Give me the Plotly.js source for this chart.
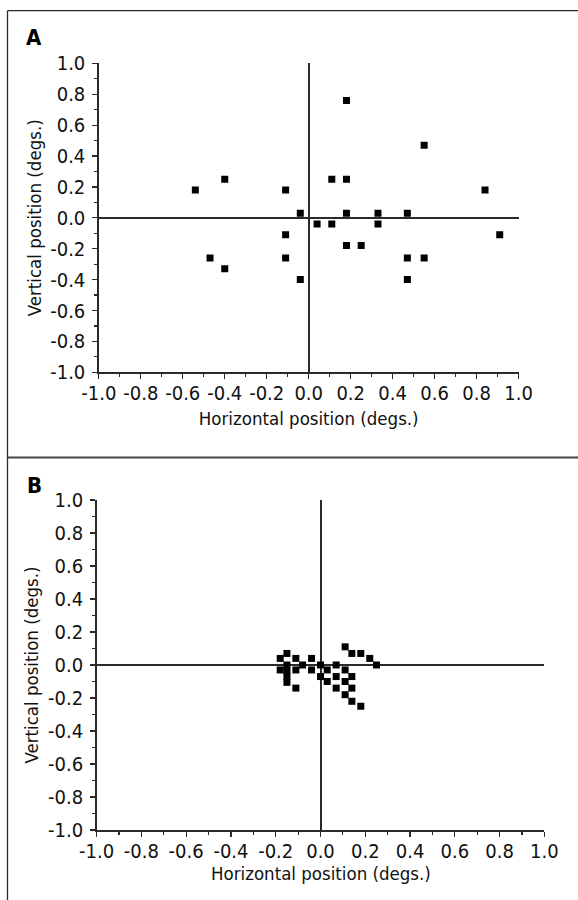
<!DOCTYPE html>
<html><head><meta charset="utf-8">
<script src="https://cdn.plot.ly/plotly-3.0.1.min.js"></script>
<style>html,body{margin:0;padding:0;background:#fff}#chart{width:578px;height:900px}</style>
</head><body><div id="chart"></div><script>
// Panel A fixation positions (degs.)
const aX = [-0.54,-0.40,-0.47,-0.40,-0.11,-0.11,-0.11,-0.04,-0.04,0.04,0.11,0.11,0.18,0.18,0.18,0.18,0.25,0.33,0.33,0.47,0.47,0.47,0.55,0.55,0.84,0.91];
const aY = [0.18,0.25,-0.26,-0.33,0.18,-0.11,-0.26,0.03,-0.40,-0.04,-0.04,0.25,0.76,0.25,0.03,-0.18,-0.18,0.03,-0.04,0.03,-0.26,-0.40,0.47,-0.26,0.18,-0.11];
// Panel B fixation positions (degs.)
const bX = [-0.18,-0.15,-0.11,-0.04,-0.08,0.00,-0.18,-0.15,-0.15,-0.15,-0.15,-0.11,-0.04,-0.11,0.00,0.03,0.07,0.03,0.07,0.11,0.07,0.11,0.14,0.11,0.14,0.14,0.18,0.11,0.14,0.18,0.22,0.25];
const bY = [0.04,0.07,0.04,0.04,0.00,0.00,-0.03,0.00,-0.035,-0.07,-0.105,-0.03,-0.03,-0.14,-0.07,-0.03,0.00,-0.10,-0.07,-0.03,-0.14,-0.10,-0.07,-0.18,-0.14,-0.22,-0.25,0.11,0.07,0.07,0.04,0.00];
// Tick labels
const tickVals = [-1.0,-0.8,-0.6,-0.4,-0.2,0.0,0.2,0.4,0.6,0.8,1.0];
const tickText = ["-1.0","-0.8","-0.6","-0.4","-0.2","0.0","0.2","0.4","0.6","0.8","1.0"];
const xTitle = "Horizontal position (degs.)";
const yTitle = "Vertical position (degs.)";
const panelLabels = ["A","B"];

const FONT = "DejaVu Sans Condensed, Liberation Sans Narrow, Arial Narrow, sans-serif";
const INK = "#2a2a2a";
const TITLE_FONT = {family: FONT, size: 18.5, color: "#111"};

function axis(domain, anchor, isX, standoff){
  const ax = {
    domain: domain, anchor: anchor, range: [-1, 1],
    tickmode: "array", tickvals: tickVals, ticktext: tickText,
    ticks: "outside", ticklen: 5, tickwidth: 1.2, tickcolor: INK,
    minor: {tickmode: "linear", tick0: 0, dtick: 0.1, ticks: "outside", ticklen: 3, tickwidth: 1.2, tickcolor: INK},
    showline: true, linecolor: INK, linewidth: 1.5,
    showgrid: false, zeroline: true, zerolinecolor: INK, zerolinewidth: 2,
    tickfont: {family: FONT, size: 20, color: "#111"},
    ticklabelstandoff: isX ? -3 : 3,
    automargin: false, fixedrange: true
  };
  if (standoff !== null) ax.title = {text: isX ? xTitle : yTitle, font: TITLE_FONT, standoff: standoff};
  return ax;
}

const marker = {symbol: "square", size: 7, color: "#000", line: {width: 0}};
const data = [
  {x: aX, y: aY, xaxis: "x", yaxis: "y", type: "scatter", mode: "markers", marker: marker, hoverinfo: "x+y"},
  {x: bX, y: bY, xaxis: "x2", yaxis: "y2", type: "scatter", mode: "markers", marker: marker, hoverinfo: "x+y"}
];

const layout = {
  width: 578, height: 900,
  margin: {l: 0, r: 0, t: 0, b: 0},
  paper_bgcolor: "#fff", plot_bgcolor: "#fff",
  showlegend: false,
  xaxis: axis([98.8/578, 518.6/578], "y", true, 8),
  yaxis: axis([1-372.3/900, 1-63.3/900], "x", false, 3),
  xaxis2: axis([96.6/578, 544.4/578], "y2", true, null),
  yaxis2: axis([1-830/900, 1-500/900], "x2", false, 4),
  shapes: [
    {type: "line", xref: "paper", yref: "paper", x0: 7.5/578, x1: 1, y0: 1-10.7/900, y1: 1-10.7/900, line: {color: INK, width: 1.3}},
    {type: "line", xref: "paper", yref: "paper", x0: 7.5/578, x1: 7.5/578, y0: 0, y1: 1-10.7/900, line: {color: INK, width: 1.3}},
    {type: "line", xref: "paper", yref: "paper", x0: 7.5/578, x1: 1, y0: 1-457.5/900, y1: 1-457.5/900, line: {color: "#444", width: 2}}
  ],
  annotations: [
    {text: "<b>" + panelLabels[0] + "</b>", xref: "paper", yref: "paper", x: 34/578, y: 1-37.5/900, showarrow: false, xanchor: "center", yanchor: "middle", font: {family: FONT, size: 22, color: "#000"}},
    {text: "<b>" + panelLabels[1] + "</b>", xref: "paper", yref: "paper", x: 34/578, y: 1-485/900, showarrow: false, xanchor: "center", yanchor: "middle", font: {family: FONT, size: 22, color: "#000"}},
    {text: xTitle, xref: "x2 domain", yref: "paper", x: 0.5, y: 1-873/900, showarrow: false, xanchor: "center", yanchor: "middle", font: TITLE_FONT}
  ]
};

Plotly.newPlot("chart", data, layout, {displayModeBar: false, staticPlot: true});
</script></body></html>
